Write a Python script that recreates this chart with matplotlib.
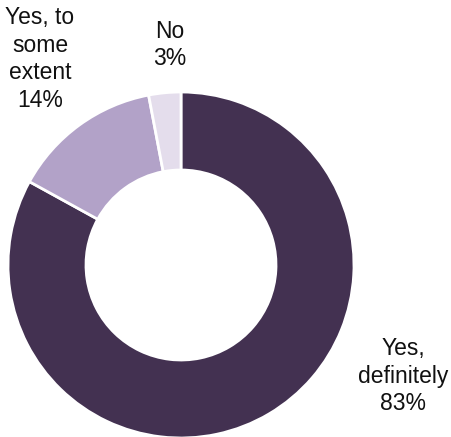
import matplotlib.pyplot as plt

labels = ["Yes,\ndefinitely\n83%", "Yes, to\nsome\nextent\n14%", "No\n3%"]
values = [83, 14, 3]
colors = ["#433151", "#B2A2C8", "#E4DDEC"]

W, H = 452, 437
fig = plt.figure(figsize=(W / 100, H / 100), dpi=100)
ax = fig.add_axes([0, 0, 1, 1])

cx, cy, r = 181, H - 265, 173
ax.pie(values, colors=colors, startangle=90, counterclock=False,
       center=(cx, cy), radius=r, frame=True,
       wedgeprops=dict(width=r - 95, edgecolor="white", linewidth=2))
ax.set_xlim(0, W)
ax.set_ylim(0, H)
ax.set_aspect("equal")
ax.axis("off")

font = dict(fontsize=16.5, family=["Liberation Sans", "DejaVu Sans"],
            ha="center", va="center", color="#111111", linespacing=1.25)
ax.text(403, H - 376, labels[0], **font)
ax.text(40, H - 59, labels[1], **font)
ax.text(170, H - 45, labels[2], **font)

fig.savefig("out.png", dpi=100)
